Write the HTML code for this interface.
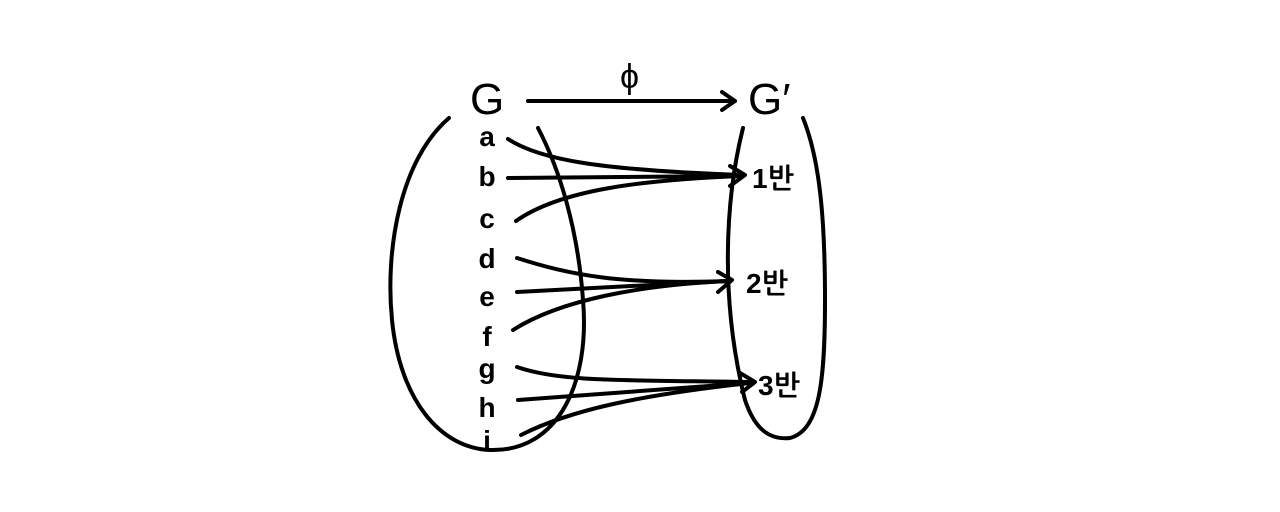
<!DOCTYPE html>
<html><head><meta charset="utf-8"><style>
html,body{margin:0;padding:0;background:#fff;width:1280px;height:512px;overflow:hidden}
svg{display:block}
text{font-family:"Liberation Sans","NanumGothic","Noto Sans CJK KR",sans-serif;fill:#000}
</style></head><body>
<svg width="1280" height="512" viewBox="0 0 1280 512" xmlns="http://www.w3.org/2000/svg">
<g fill="none" stroke="#000" stroke-width="4" stroke-linecap="round" stroke-linejoin="round">
<path d="M449,118 C400,160 385,250 392,320 C400,400 440,448 490,450 C560,452 590,380 583,300 C578,230 560,170 538,128"/>
<path d="M743,128 C725,200 720,300 745,400 C755,430 770,440 790,438 C820,430 825,380 825,300 C825,220 820,160 803,118"/>
<path d="M528,101 L735,101 M722,92 L735,101 L722,110"/>
<path d="M508,139 C540,160 600,170 742,175"/>
<path d="M508,178 L742,176"/>
<path d="M516,221 C560,190 640,180 742,176"/>
<path d="M730,166 L745,175 L730,186"/>
<path d="M517,258 C570,275 620,285 728,281"/>
<path d="M517,292 L728,281"/>
<path d="M513,330 C560,300 640,285 728,281"/>
<path d="M718,272 L732,280 L718,292"/>
<path d="M517,367 C560,382 620,380 750,382"/>
<path d="M518,400 L750,383"/>
<path d="M521,435 C570,410 640,395 750,383"/>
<path d="M740,373 L755,382 L742,392"/>
</g>
<text x="470" y="114" font-size="44">G</text>
<text x="748" y="114" font-size="44">G′</text>
<text x="620" y="88" font-size="34">ϕ</text>
<g font-size="28" font-weight="bold" text-anchor="middle">
<text x="487" y="146">a</text>
<text x="487" y="186">b</text>
<text x="487" y="228">c</text>
<text x="487" y="268">d</text>
<text x="487" y="306">e</text>
<text x="487" y="346">f</text>
<text x="487" y="378">g</text>
<text x="487" y="417">h</text>
<text x="487" y="450">i</text>
</g>
<g font-size="28" font-weight="bold">
<text x="752" y="188">1반</text>
<text x="746" y="293">2반</text>
<text x="758" y="395">3반</text>
</g>
</svg>
</body></html>
